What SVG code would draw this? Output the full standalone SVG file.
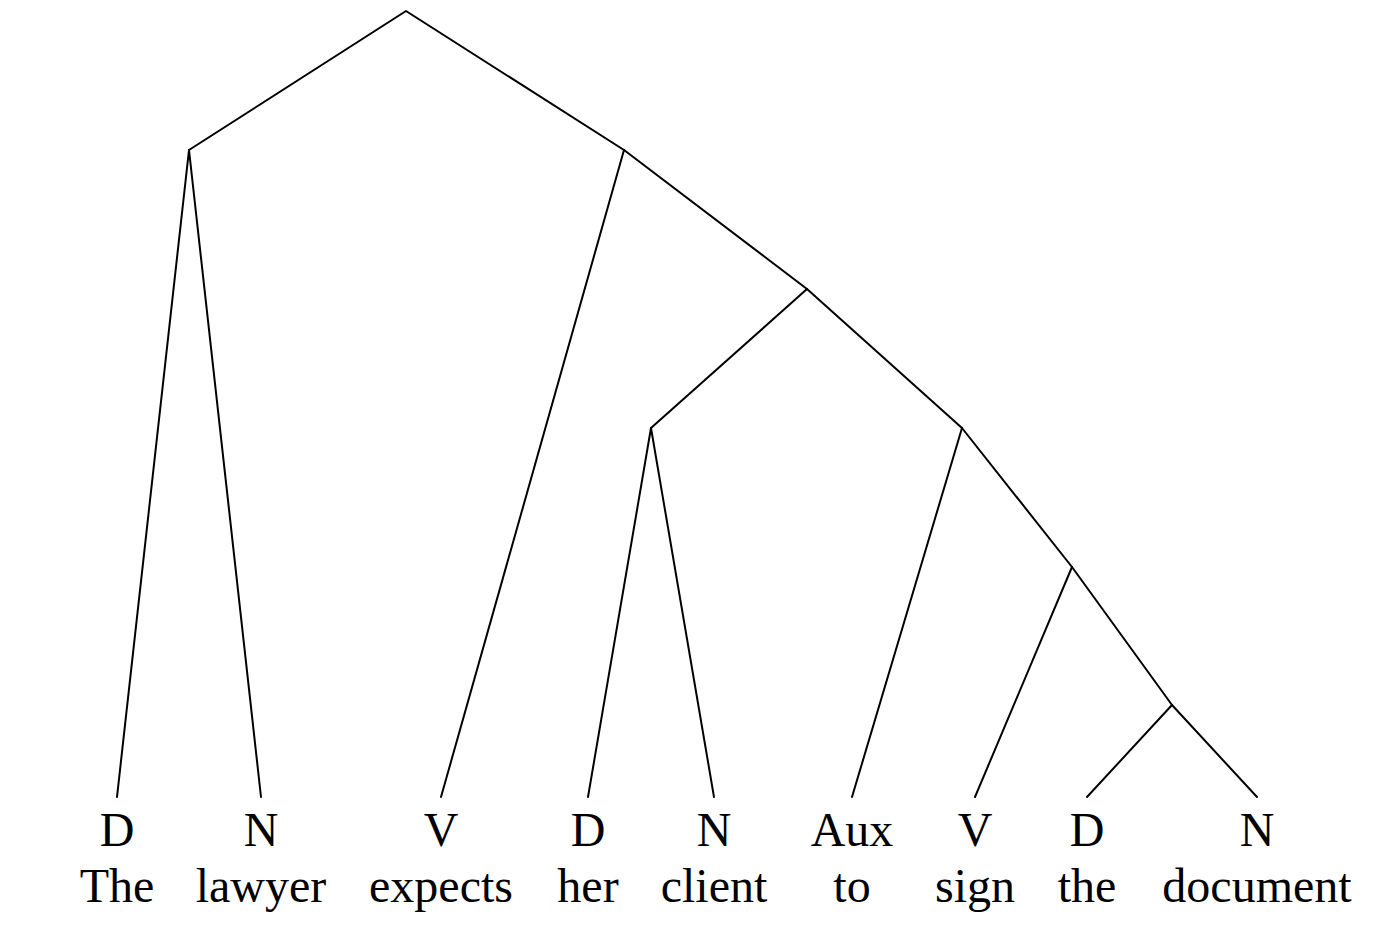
<svg xmlns="http://www.w3.org/2000/svg" width="1398" height="946" viewBox="0 0 1398 946">
<style>
.e{stroke:#000;stroke-width:2;fill:none;stroke-linecap:round;stroke-linejoin:round}
text{font-family:"Liberation Serif","Times New Roman",serif;font-size:48px;fill:#000;text-anchor:middle}
</style>
<rect width="1398" height="946" fill="#fff"/>
<g id="connectors" class="e">
<polyline points="189,150 406,11 624,150"/>
<line x1="189" y1="150" x2="117" y2="797"/>
<line x1="189" y1="150" x2="261" y2="797"/>
<line x1="624" y1="150" x2="441" y2="797"/>
<line x1="624" y1="150" x2="807" y2="289"/>
<line x1="807" y1="289" x2="651" y2="428"/>
<line x1="807" y1="289" x2="962" y2="428"/>
<line x1="651" y1="428" x2="588" y2="797"/>
<line x1="651" y1="428" x2="714" y2="797"/>
<line x1="962" y1="428" x2="852" y2="797"/>
<line x1="962" y1="428" x2="1072" y2="567"/>
<line x1="1072" y1="567" x2="975" y2="797"/>
<line x1="1072" y1="567" x2="1172" y2="705"/>
<line x1="1172" y1="705" x2="1087" y2="797"/>
<line x1="1172" y1="705" x2="1257" y2="797"/>
</g>
<g id="n1"><text x="117" y="846">D</text><text x="117" y="902">The</text></g>
<g id="n2"><text x="261" y="846">N</text><text x="261" y="902">lawyer</text></g>
<g id="n3"><text x="441" y="846">V</text><text x="441" y="902">expects</text></g>
<g id="n4"><text x="588" y="846">D</text><text x="588" y="902">her</text></g>
<g id="n5"><text x="714" y="846">N</text><text x="714" y="902">client</text></g>
<g id="n6"><text x="852" y="846">Aux</text><text x="852" y="902">to</text></g>
<g id="n7"><text x="975" y="846">V</text><text x="975" y="902">sign</text></g>
<g id="n8"><text x="1087" y="846">D</text><text x="1087" y="902">the</text></g>
<g id="n9"><text x="1257" y="846">N</text><text x="1257" y="902">document</text></g>
</svg>
